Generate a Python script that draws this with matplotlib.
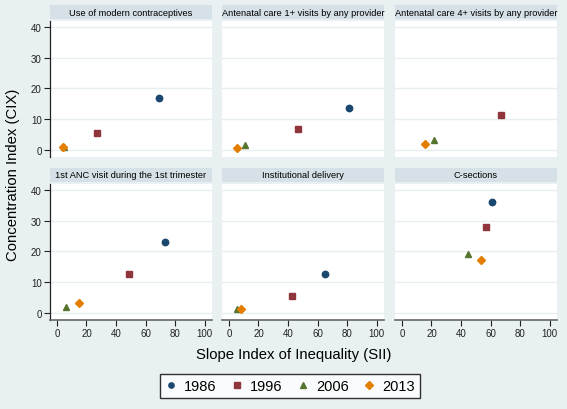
import matplotlib
matplotlib.use("Agg")
import matplotlib.pyplot as plt
from matplotlib.patches import Rectangle
from matplotlib.lines import Line2D

plt.rcParams['font.family'] = ['Liberation Sans', 'DejaVu Sans']

titles = ["Use of modern contraceptives",
          "Antenatal care 1+ visits by any provider",
          "Antenatal care 4+ visits by any provider",
          "1st ANC visit during the 1st trimester",
          "Institutional delivery",
          "C-sections"]
years = ["1986", "1996", "2006", "2013"]

# SII (x) and CIX (y) per panel, per year (None = not shown)
sii = [[69, 27, 4.5, 4.2],
       [81.5, 46.5, 11, 5.7],
       [None, 67, 21.5, 15.5],
       [73, 48.5, 6.2, 15],
       [65, 42.5, 5.3, 8.2],
       [61, 57, 45, 53.3]]
cix = [[17, 5.3, 0.8, 0.9],
       [13.6, 6.6, 1.4, 0.6],
       [None, 11.2, 3.1, 2.0],
       [23, 12.7, 1.8, 3.0],
       [12.6, 5.3, 1.3, 1.1],
       [36.2, 27.9, 19.0, 17.1]]

colors = ['#1a476f', '#90353b', '#55752f', '#e37e00']
markers = ['o', 's', '^', 'D']
msizes = [4.6, 4.6, 5.0, 4.4]

bg = '#e9f0f2'
strip = '#d5e1e6'
grid = '#e6eef0'

W, H = 567, 410
fig = plt.figure(figsize=(W / 100, H / 100), dpi=100, facecolor=bg)

lefts = [50, 222, 395]
tops = [22, 185]
pw, ph = 162, 136

for i, title in enumerate(titles):
    r, c = divmod(i, 3)
    x0, y0 = lefts[c], tops[r]
    ax = fig.add_axes([x0 / W, 1 - (y0 + ph) / H, pw / W, ph / H])
    ax.set_facecolor('white')
    # title strip
    fig.patches.append(Rectangle((x0 / W, 1 - (y0 - 2) / H), pw / W, 14 / H,
                                 transform=fig.transFigure, facecolor=strip,
                                 edgecolor='none'))
    fig.text((x0 + pw / 2) / W, 1 - (y0 - 9) / H, title, ha='center', va='center',
             fontsize=6.7, color='black')
    for k in range(4):
        if sii[i][k] is None:
            continue
        ax.plot(sii[i][k], cix[i][k], marker=markers[k], color=colors[k],
                ms=msizes[k], ls='none', mec=colors[k], zorder=3)
    ax.set_xlim(-4.7, 105)
    ax.set_ylim(-2.4, 42)
    ax.set_yticks([0, 10, 20, 30, 40])
    ax.set_xticks([0, 20, 40, 60, 80, 100])
    ax.grid(axis='y', color=grid, lw=1.0)
    ax.set_axisbelow(True)
    for s in ['top', 'right']:
        ax.spines[s].set_visible(False)
    ax.spines['left'].set_visible(c == 0)
    ax.spines['bottom'].set_visible(r == 1)
    ax.spines['left'].set_color('#222222')
    ax.spines['bottom'].set_color('#666666')
    ax.spines['left'].set_linewidth(0.9)
    ax.spines['bottom'].set_linewidth(1.2)
    ax.tick_params(axis='y', left=(c == 0), labelleft=(c == 0), length=4,
                   width=0.8, labelsize=7, pad=2, colors='#222222')
    ax.tick_params(axis='x', bottom=(r == 1), labelbottom=(r == 1), length=4,
                   width=0.8, labelsize=7, pad=2, colors='#222222')

fig.text(294 / W, 1 - 355 / H, "Slope Index of Inequality (SII)", ha='center',
         va='center', fontsize=10.7)
fig.text(13 / W, 1 - 175 / H, "Concentration Index (CIX)", ha='center',
         va='center', rotation=90, fontsize=10.7)

handles = [Line2D([], [], marker=markers[k], color=colors[k], ls='none',
                  ms=msizes[k] - 0.8) for k in range(4)]
leg = fig.legend(handles, years, loc='center', ncol=4,
                 bbox_to_anchor=(290 / W, 1 - 387 / H), fontsize=10.5,
                 frameon=True, fancybox=False, edgecolor='black',
                 handlelength=0.8, handletextpad=0.5, columnspacing=1.0,
                 borderpad=0.35)
leg.get_frame().set_linewidth(1.0)

fig.savefig("out.png", dpi=100, facecolor=bg)
